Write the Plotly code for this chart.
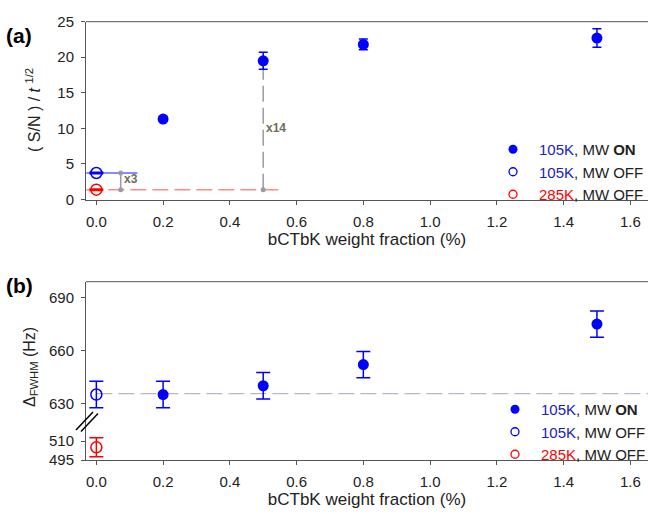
import plotly.graph_objects as go

# ---------------- data ----------------
# panel (a): (S/N)/t^1/2
x_on = [0.2, 0.5, 0.8, 1.5]
a_on = [11.3, 19.5, 21.8, 22.7]
a_on_err = [0.3, 1.2, 0.75, 1.3]
x_off = [0.0]
a_off105 = [3.7]
a_off105_err = [0.1]
a_off285 = [1.35]
a_off285_err = [0.1]

# guide lines in panel (a)
blue_ref_x = [-0.03, 0.123]
blue_ref_y = [3.7, 3.7]
red_ref_x = [-0.03, 0.545]
red_ref_y = [1.35, 1.35]
x3_x = [0.073, 0.073]
x3_y = [1.35, 3.7]
x14_x = [0.5, 0.5]
x14_y = [1.35, 19.1]

# panel (b): FWHM (Hz)
b_on = [635, 640, 652, 675]
b_on_err = [7.5, 7.5, 7.5, 7.5]
b_off105 = [635]
b_off105_err = [7.5]
b_off285 = [505]
b_off285_err = [7.5]
b_ref_x = [0.0, 1.66]
b_ref_y = [635.5, 635.5]

x_ticks = [0.0, 0.2, 0.4, 0.6, 0.8, 1.0, 1.2, 1.4, 1.6]
a_yticks = [0, 5, 10, 15, 20, 25]
b_yticks_hi = [630, 660, 690]
b_yticks_lo = [495, 510]

BLUE = "#0000ff"
RED = "#ff0000"
FONT = "Liberation Sans, Arial, sans-serif"

W, H = 648, 514
L = 86
PW = W - L
def py(pix):
    return (H - pix) / H
def px(pix):
    return (pix - L) / PW

names = [
    "<span style='color:#2020c0'>105K</span>, MW <b>ON</b>",
    "<span style='color:#2020c0'>105K</span>, MW OFF",
    "<span style='color:#ff0000'>285K</span>, MW OFF",
]

fig = go.Figure()

# ---- panel (a) guides ----
fig.add_trace(go.Scatter(x=red_ref_x, y=red_ref_y, mode="lines", xaxis="x", yaxis="y",
                         line=dict(color="#ff8a8a", width=1.5, dash="16px,6px"), showlegend=False, hoverinfo="skip"))
fig.add_trace(go.Scatter(x=blue_ref_x, y=blue_ref_y, mode="lines", xaxis="x", yaxis="y",
                         line=dict(color="#8a8aff", width=2), showlegend=False, hoverinfo="skip"))
fig.add_trace(go.Scatter(x=x3_x, y=x3_y, mode="lines+markers", xaxis="x", yaxis="y",
                         line=dict(color="#9a9aaa", width=1.5), marker=dict(color="#9a9aa5", size=5),
                         showlegend=False, hoverinfo="skip"))
fig.add_trace(go.Scatter(x=x14_x, y=x14_y, mode="lines+markers", xaxis="x", yaxis="y",
                         line=dict(color="#9a9aaa", width=1.5, dash="16px,6px"), marker=dict(color="#9a9aa5", size=5),
                         showlegend=False, hoverinfo="skip"))

# ---- panel (a) data ----
fig.add_trace(go.Scatter(x=x_on, y=a_on, mode="markers", xaxis="x", yaxis="y", showlegend=False,
                         marker=dict(color=BLUE, size=11, symbol="circle"),
                         error_y=dict(type="data", array=a_on_err, color=BLUE, thickness=1.5, width=4.5)))
fig.add_trace(go.Scatter(x=x_off, y=a_off105, mode="markers", xaxis="x", yaxis="y", showlegend=False,
                         marker=dict(color=BLUE, size=11, symbol="circle-open", line=dict(width=1.5)),
                         error_y=dict(type="data", array=a_off105_err, color=BLUE, thickness=1.5, width=7)))
fig.add_trace(go.Scatter(x=x_off, y=a_off285, mode="markers", xaxis="x", yaxis="y", showlegend=False,
                         marker=dict(color=RED, size=11, symbol="circle-open", line=dict(width=1.5)),
                         error_y=dict(type="data", array=a_off285_err, color=RED, thickness=1.5, width=7)))

# ---- panel (b) ----
fig.add_trace(go.Scatter(x=b_ref_x, y=b_ref_y, mode="lines", xaxis="x2", yaxis="y2",
                         line=dict(color="#b8b8cc", width=1.2, dash="16px,6px"), showlegend=False, hoverinfo="skip"))
fig.add_trace(go.Scatter(x=x_on, y=b_on, mode="markers", xaxis="x2", yaxis="y2", showlegend=False,
                         marker=dict(color=BLUE, size=11, symbol="circle"),
                         error_y=dict(type="data", array=b_on_err, color=BLUE, thickness=1.5, width=7)))
fig.add_trace(go.Scatter(x=x_off, y=b_off105, mode="markers", xaxis="x2", yaxis="y2", showlegend=False,
                         marker=dict(color=BLUE, size=11, symbol="circle-open", line=dict(width=1.5)),
                         error_y=dict(type="data", array=b_off105_err, color=BLUE, thickness=1.5, width=7)))
fig.add_trace(go.Scatter(x=x_off, y=b_off285, mode="markers", xaxis="x2", yaxis="y3", showlegend=False,
                         marker=dict(color=RED, size=11, symbol="circle-open", line=dict(width=1.5)),
                         error_y=dict(type="data", array=b_off285_err, color=RED, thickness=1.5, width=7)))

# ---- legend entries (smaller legend symbols, as in the reference) ----
leg_styles = [
    dict(color=BLUE, size=9, symbol="circle"),
    dict(color=BLUE, size=8, symbol="circle-open", line=dict(width=1.3)),
    dict(color=RED, size=8, symbol="circle-open", line=dict(width=1.3)),
]
for lg, xa, ya in (("legend", "x", "y"), ("legend2", "x2", "y2")):
    for i, (nm, st) in enumerate(zip(names, leg_styles)):
        fig.add_trace(go.Scatter(x=[None], y=[None], mode="markers", xaxis=xa, yaxis=ya, name=nm,
                                 legend=lg, marker=st))

axis_common = dict(showline=True, linecolor="#555555", linewidth=1, ticks="outside", ticklen=4,
                   tickcolor="#555555", showgrid=False, zeroline=False, automargin=False,
                   tickfont=dict(family=FONT, size=15, color="#222222"))

xr = [-0.031, 1.653]
xtitle = dict(text="bCTbK weight fraction (%)", font=dict(size=17), standoff=3)
fig.update_layout(
    width=W, height=H,
    margin=dict(l=L, r=0, t=0, b=0, autoexpand=False),
    paper_bgcolor="white", plot_bgcolor="white",
    font=dict(family=FONT, size=15, color="#222222"),
    xaxis=dict(domain=[0, 1], range=xr, anchor="y", tickvals=x_ticks, ticktext=[f"{v:.1f}" for v in x_ticks],
               title=xtitle, ticklabelstandoff=4, **axis_common),
    yaxis=dict(domain=[py(200), py(21.7)], range=[-0.1, 25], anchor="x", tickvals=a_yticks,
               ticklabelstandoff=4, **axis_common),
    xaxis2=dict(domain=[0, 1], range=xr, anchor="y3", tickvals=x_ticks, ticktext=[f"{v:.1f}" for v in x_ticks],
                title=xtitle, ticklabelstandoff=4, **axis_common),
    yaxis2=dict(domain=[py(422), py(281.7)], range=[619.4, 699.1], anchor="x2", tickvals=b_yticks_hi,
                ticklabelstandoff=4, **axis_common),
    yaxis3=dict(domain=[py(460), py(422)], range=[495, 525], anchor="x2", tickvals=b_yticks_lo,
                ticklabelstandoff=4, **axis_common),
    legend=dict(x=px(487), y=py(133), xanchor="left", yanchor="top", bgcolor="rgba(0,0,0,0)",
                font=dict(family=FONT, size=15), itemwidth=42, traceorder="normal"),
    legend2=dict(x=px(489), y=py(393), xanchor="left", yanchor="top", bgcolor="rgba(0,0,0,0)",
                 font=dict(family=FONT, size=15), itemwidth=42, traceorder="normal"),
    showlegend=True,
)

# top frame lines
fig.add_shape(type="line", xref="paper", yref="paper", x0=0, x1=1, y0=py(21.7), y1=py(21.7),
              line=dict(color="#555555", width=1))
fig.add_shape(type="line", xref="paper", yref="paper", x0=0, x1=1, y0=py(281.7), y1=py(281.7),
              line=dict(color="#555555", width=1))

# axis break marks
for dx in (0, 5):
    fig.add_shape(type="line", xref="paper", yref="paper",
                  x0=px(76 + dx), x1=px(93 + dx),
                  y0=py(430 + dx * 0.3), y1=py(412 + dx * 0.3),
                  line=dict(color="black", width=1.5))

# y-axis titles
fig.add_annotation(xref="paper", yref="paper", x=px(33), y=py(110), xanchor="center", yanchor="middle",
                   showarrow=False, text="( S/N ) / <i>t</i> <sup>1/2</sup>", textangle=-90, font=dict(size=16))
fig.add_annotation(xref="paper", yref="paper", x=px(30), y=py(367), xanchor="center", yanchor="middle",
                   showarrow=False, text="Δ<sub>FWHM</sub> (Hz)", textangle=-90, font=dict(size=16))

# panel labels
fig.add_annotation(xref="paper", yref="paper", x=px(4), y=py(22), xanchor="left", showarrow=False,
                   text="<b>(a)</b>", font=dict(size=21, color="black"))
fig.add_annotation(xref="paper", yref="paper", x=px(4), y=py(285), xanchor="left", showarrow=False,
                   text="<b>(b)</b>", font=dict(size=21, color="black"))

# ratio labels
fig.add_annotation(xref="x", yref="y", x=x3_x[0], y=2.85, xanchor="left", showarrow=False, xshift=1,
                   text="<b>x3</b>", font=dict(size=12, color="#6e6e58"))
fig.add_annotation(xref="x", yref="y", x=x14_x[0], y=10.1, xanchor="left", showarrow=False, xshift=1,
                   text="<b>x14</b>", font=dict(size=12, color="#6e6e58"))

fig.write_html("out.html", config={"displayModeBar": False},
               post_script="document.body.style.margin='0';document.body.style.overflow='hidden';")
